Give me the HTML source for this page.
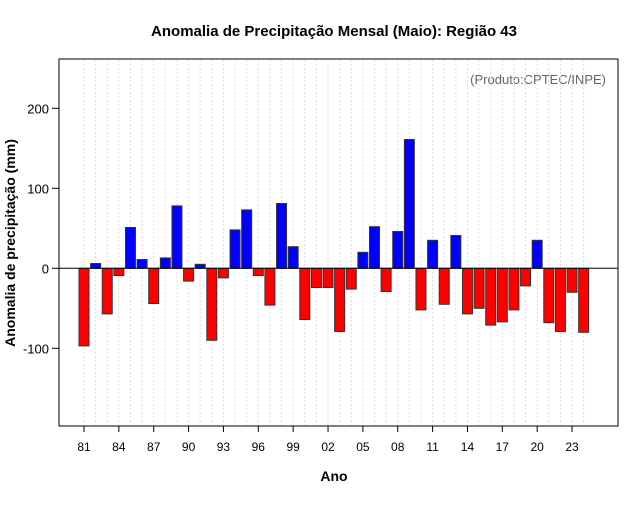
<!DOCTYPE html>
<html><head><meta charset="utf-8"><style>
body{margin:0;background:#fff;font-family:"Liberation Sans",sans-serif}
svg text{font-family:"Liberation Sans",sans-serif}
</style></head><body>
<svg id="chart" width="640" height="500">
<text x="334" y="36" text-anchor="middle" font-size="15" font-weight="bold">Anomalia de Precipitação Mensal (Maio): Região 43</text>
<rect x="59" y="59" width="559" height="367" fill="none" stroke="#000"/>
<text x="606" y="84" text-anchor="end" font-size="13" fill="#666">(Produto:CPTEC/INPE)</text>
<text x="334" y="481" text-anchor="middle" font-size="14" font-weight="bold">Ano</text>
<text transform="translate(15,243) rotate(-90)" text-anchor="middle" font-size="14" font-weight="bold">Anomalia de precipitação (mm)</text>
<g id="grid"></g><g id="bars"></g><g id="axes"></g>
</svg>
<script>
const years=[1981,1982,1983,1984,1985,1986,1987,1988,1989,1990,1991,1992,1993,1994,1995,1996,1997,1998,1999,2000,2001,2002,2003,2004,2005,2006,2007,2008,2009,2010,2011,2012,2013,2014,2015,2016,2017,2018,2019,2020,2021,2022,2023,2024];
const anomalies=[-97,6,-57,-9,51,11,-44,13,78,-16,5,-90,-12,48,73,-9,-46,81,27,-64,-24,-24,-79,-26,20,52,-29,46,161,-52,35,-45,41,-57,-50,-71,-67,-52,-22,35,-68,-79,-30,-80];
const yTicks=[-100,0,100,200];
const xTickYears=[1981,1984,1987,1990,1993,1996,1999,2002,2005,2008,2011,2014,2017,2020,2023];
const NS="http://www.w3.org/2000/svg";
function xS(yr){return 84+(yr-1981)*11.62;}
function yS(v){return 268.3-v*0.8;}
function mk(tag,attrs,parent){const e=document.createElementNS(NS,tag);for(const k in attrs)e.setAttribute(k,attrs[k]);parent.appendChild(e);return e;}
const grid=document.getElementById('grid'),bars=document.getElementById('bars'),axes=document.getElementById('axes');
years.forEach(yr=>{const l=mk('line',{x1:xS(yr),x2:xS(yr),y1:60,y2:425,stroke:'#ddd','stroke-dasharray':'2,2'},grid);

});
years.forEach((yr,i)=>{const v=anomalies[i];const y0=yS(0),y1=yS(v);
const r=mk('rect',{x:xS(yr)-5,y:Math.min(y0,y1),width:10,height:Math.abs(y1-y0),fill:v>=0?'#0000ff':'#ff0000',stroke:'#333','stroke-width':1},bars);

});
const z=mk('line',{x1:59,x2:618,y1:yS(0),y2:yS(0),stroke:'#000'},axes);


yTicks.forEach(t=>{mk('line',{x1:52,x2:59,y1:yS(t),y2:yS(t),stroke:'#000'},axes);
const tx=mk('text',{x:49,y:yS(t)+5,'text-anchor':'end','font-size':13},axes);tx.textContent=t;

});
xTickYears.forEach(yr=>{mk('line',{x1:xS(yr),x2:xS(yr),y1:426,y2:432,stroke:'#000'},axes);
const tx=mk('text',{x:xS(yr),y:451,'text-anchor':'middle','font-size':12},axes);tx.textContent=String(yr%100).padStart(2,'0');

});
</script>
</body></html>
